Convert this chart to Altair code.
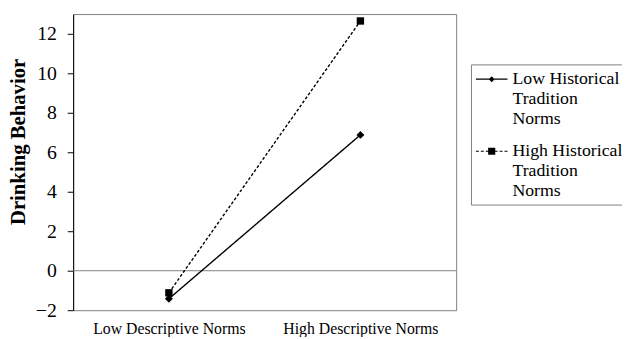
import altair as alt
import pandas as pd

categories = ["Low Descriptive Norms", "High Descriptive Norms"]
series_names = ["Low Historical Tradition Norms", "High Historical Tradition Norms"]
low_hist = [-1.42, 6.88]
high_hist = [-1.12, 12.65]
y_ticks = [-2, 0, 2, 4, 6, 8, 10, 12]

rows = []
for s, vals in zip(series_names, [low_hist, high_hist]):
    for c, v in zip(categories, vals):
        rows.append({"norm": c, "series": s, "value": v})
df = pd.DataFrame(rows)
zero_df = pd.DataFrame({"y": [0]})

FONT = "Liberation Serif"

x_enc = alt.X(
    "norm:N", sort=categories,
    axis=alt.Axis(title=None, labelAngle=0, ticks=False, tickSize=0, domain=False,
                  labelFontSize=16, labelPadding=11, labelColor="black", labelFont=FONT),
)
y_enc = alt.Y(
    "value:Q",
    scale=alt.Scale(domain=[-2, 13], nice=False, zero=False),
    axis=alt.Axis(values=y_ticks, title="Drinking Behavior", grid=False,
                  tickSize=6, tickColor="black", domainColor="black",
                  labelFontSize=20, labelPadding=11, labelColor="black", labelFont=FONT,
                  titleFont=FONT, titleFontSize=21, titleFontWeight="bold", titleColor="black",
                  titleX=-45, titleY=129, titleAngle=-90, titleAlign="center", titleBaseline="bottom"),
)

dash_scale = alt.Scale(domain=series_names, range=[[1, 0], [3, 2]])

zero_rule = alt.Chart(zero_df).mark_rule(color="#808080", strokeWidth=1).encode(y="y:Q")

lines = alt.Chart(df).mark_line(color="black", strokeWidth=1.4).encode(
    x=x_enc, y=y_enc,
    strokeDash=alt.StrokeDash("series:N", scale=dash_scale, legend=None),
    detail="series:N",
)

points = alt.Chart(df).mark_point(filled=True, color="black", opacity=1).encode(
    x=x_enc, y=y_enc,
    shape=alt.Shape("series:N", scale=alt.Scale(domain=series_names, range=["diamond", "square"]), legend=None),
    size=alt.Size("series:N", scale=alt.Scale(domain=series_names, range=[64, 56]), legend=None),
)


# legend symbols: a line (solid or dashed) with the marker in the middle, drawn as filled paths
def rect(x0, x1, h=0.06):
    return f"M{x0:.2f},{-h}H{x1:.2f}V{h}H{x0:.2f}Z"


solid_sym = rect(-1.6, 1.6) + "M0,-0.3L0.3,0L0,0.3L-0.3,0Z"
dash_segments = [(-1.6, -1.3), (-1.1, -0.8), (-0.6, -0.3), (0.3, 0.6), (0.8, 1.1), (1.3, 1.6)]
dashed_sym = "".join(rect(a, b) for a, b in dash_segments) + "M-0.36,-0.36H0.36V0.36H-0.36Z"
legend_paths = [solid_sym, dashed_sym]
label_expr = "split(replace(datum.label, ' Tradition ', '|Tradition|'), '|')"

legend_layer = alt.Chart(df).mark_point(filled=True, color="black", opacity=0, size=400).encode(
    x=x_enc, y=y_enc,
    shape=alt.Shape(
        "series:N", scale=alt.Scale(domain=series_names, range=legend_paths),
        legend=alt.Legend(title=None, orient="none", legendX=403, legendY=51,
                          labelExpr=label_expr, labelFont=FONT, labelFontSize=18,
                          labelColor="black", labelBaseline="middle",
                          symbolSize=400, symbolOffset=6, labelOffset=11,
                          symbolOpacity=1, symbolFillColor="black", symbolStrokeWidth=0,
                          strokeColor="#808080", fillColor="white", padding=5,
                          rowPadding=14, labelLimit=300),
    ),
)

chart = alt.layer(zero_rule, lines, points, legend_layer).resolve_scale(
    shape="independent", size="independent"
).properties(
    width=388, height=300,
    autosize=alt.AutoSizeParams(type="none"),
    padding={"left": 66, "top": 4, "right": 168, "bottom": 25},
).configure(font=FONT).configure_view(stroke="#808080", strokeWidth=1)

chart.save("out.html", embed_options={"renderer": "svg", "actions": False})
